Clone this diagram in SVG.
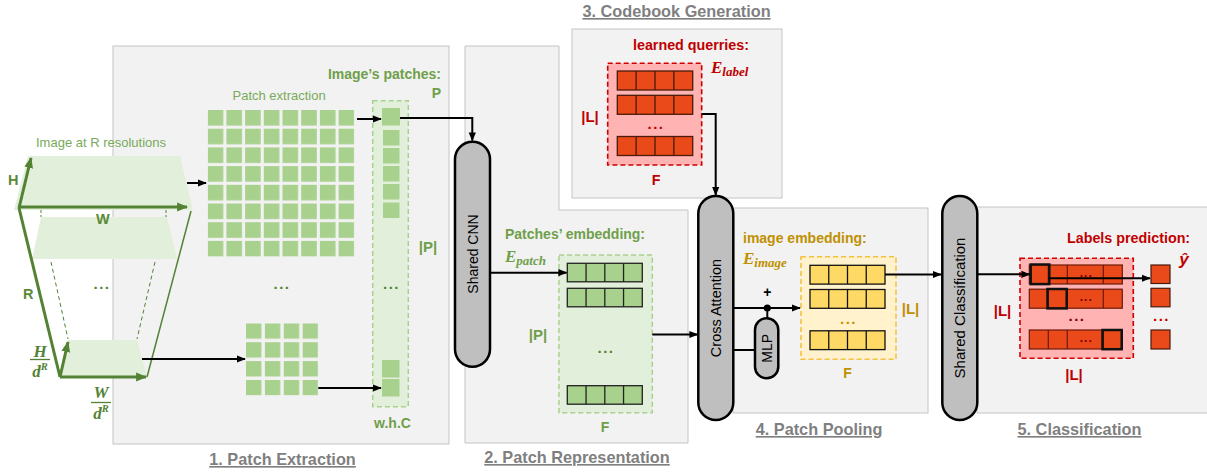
<svg xmlns="http://www.w3.org/2000/svg" xmlns:xlink="http://www.w3.org/1999/xlink" width="1207" height="475" viewBox="0 0 1207 475">
<style>
text{font-family:"Liberation Sans",Arial,sans-serif}
.panel{fill:#f2f2f2;stroke:#c4c4c4;stroke-width:1}
.title{font-size:16.3px;font-weight:bold;fill:#7f7f7f;text-decoration:underline;text-anchor:middle}
.g{fill:#6f9f4a;font-weight:bold;font-size:14px}
.gd{fill:#5a8a37;font-weight:bold;font-size:14.5px}
.gl{fill:#78aa5a;font-size:13px}
.r{fill:#c00000;font-weight:bold;font-size:14.3px}
.y{fill:#bf9000;font-weight:bold;font-size:14px}
.math{font-family:"Liberation Serif","DejaVu Serif",serif;font-style:italic;font-weight:bold}
.cap{fill:#bfbfbf;stroke:#000;stroke-width:2.5}
.capt{font-size:14px;fill:#000;text-anchor:middle;dominant-baseline:central}
.conn{stroke:#000;stroke-width:2;fill:none}
.sq{fill:#a9d18e}
.gdash{fill:#e2efda;stroke:#a9d18e;stroke-width:1.5;stroke-dasharray:5 3}
.rdash{fill:#ffb3b3;stroke:#d00000;stroke-width:1.6;stroke-dasharray:5 3}
.ydash{fill:#fff2cc;stroke:#f5c142;stroke-width:1.6;stroke-dasharray:5 3}
.img{fill:#e2efda}
.gline{stroke:#548235;stroke-width:3;fill:none}
.dots{font-weight:bold;font-size:15px;text-anchor:middle;letter-spacing:1.5px}
.mid{text-anchor:middle}
</style>
<defs>
<marker id="ah" viewBox="0 0 10 10" refX="9" refY="5" markerWidth="9" markerHeight="9" markerUnits="userSpaceOnUse" orient="auto"><path d="M0,1 L10,5 L0,9 z" fill="#000"/></marker>
<marker id="gah" viewBox="0 0 10 10" refX="9" refY="5" markerWidth="11" markerHeight="11" markerUnits="userSpaceOnUse" orient="auto"><path d="M0,1 L10,5 L0,9 z" fill="#548235"/></marker>
<pattern id="grid8" patternUnits="userSpaceOnUse" x="207.7" y="110" width="18.7" height="18.7"><rect width="15.6" height="15.6" fill="#a9d18e"/></pattern>
<pattern id="grid4" patternUnits="userSpaceOnUse" x="246" y="323.3" width="18.9" height="18.9"><rect width="15.4" height="15.4" fill="#a9d18e"/></pattern>
<g id="grow"><rect x="0" y="0" width="75" height="18.5" fill="#a9d18e" stroke="#222" stroke-width="1.3"/><path d="M18.75,0V18.5M37.5,0V18.5M56.25,0V18.5" stroke="#222" stroke-width="1.3"/></g>
<g id="rrow"><rect x="0" y="0" width="75.4" height="19" fill="#ea4a1a" stroke="#4a1a0a" stroke-width="1.3"/><path d="M18.85,0V19M37.7,0V19M56.55,0V19" stroke="#4a1a0a" stroke-width="1.3"/></g>
<g id="yrow"><rect x="0" y="0" width="75" height="18.8" fill="#ffd966" stroke="#111" stroke-width="1.3"/><path d="M18.75,0V18.8M37.5,0V18.8M56.25,0V18.8" stroke="#111" stroke-width="1.3"/></g>
<g id="lrow"><rect x="0" y="0" width="93" height="19" fill="#ea4a1a" stroke="#6a1a0a" stroke-width="1.2"/><path d="M19,0V19M38,0V19M74,0V19" stroke="#6a1a0a" stroke-width="1.2"/><text x="57" y="12" class="dots" fill="#7a0000" style="font-size:12px;letter-spacing:1px">...</text></g>
</defs>

<rect width="1207" height="475" fill="#fff"/>

<!-- panels -->
<g id="panel1"><rect class="panel" x="113" y="46" width="336" height="398"/></g>
<g id="panel2"><path class="panel" d="M465,46H559V210H688V443H465Z"/></g>
<g id="panel3"><rect class="panel" x="572" y="29" width="210" height="169"/></g>
<g id="panel4"><rect class="panel" x="733" y="208" width="195" height="205"/></g>
<g id="panel5"><rect class="panel" x="977" y="207" width="240" height="206"/></g>

<!-- titles -->
<text class="title" x="282.5" y="465">1. Patch Extraction</text>
<text class="title" x="577" y="463">2. Patch Representation</text>
<text class="title" x="676.5" y="17">3. Codebook Generation</text>
<text class="title" x="819" y="435">4. Patch Pooling</text>
<text class="title" x="1079.5" y="435">5. Classification</text>

<!-- multi-resolution image -->
<g id="image-pyramid">
<text class="gl" x="36" y="147">Image at R resolutions</text>
<polygon class="img" points="28,156 180,156 193,210 14,210"/>
<polygon class="img" points="41,217 167,217 177,259 32,259"/>
<polygon class="img" points="68,340 137,340 147,377 59,377"/>
<path d="M41,210V217M166,210V217" stroke="#548235" stroke-width="1" stroke-dasharray="3 2"/>
<path d="M51,262L68,339M155,262L137,339" stroke="#548235" stroke-width="1" stroke-dasharray="4 3"/>
<path d="M191,211L147,377" stroke="#548235" stroke-width="1.5" fill="none"/>
<path class="gline" d="M19,208L60,377"/>
<path class="gline" d="M19,208L31,158" marker-end="url(#gah)"/>
<path class="gline" d="M19,207H187" marker-end="url(#gah)"/>
<path class="gline" d="M60,377L68,342" stroke-width="2.5" marker-end="url(#gah)"/>
<path class="gline" d="M60,377H146" stroke-width="2.5" marker-end="url(#gah)"/>
<text class="gd" x="8" y="185">H</text>
<text class="gd" x="96" y="224">W</text>
<text class="gd" x="23" y="299">R</text>
<text class="dots" x="102" y="289" fill="#548235">...</text>
<g fill="#548235">
<text class="math mid" x="40" y="357" font-size="17">H</text>
<path d="M30,359.5H50" stroke="#548235" stroke-width="1.3"/>
<text class="math mid" x="40" y="377" font-size="17">d<tspan font-size="10.5" dy="-7">R</tspan></text>
<text class="math mid" x="101" y="398" font-size="17">W</text>
<path d="M91,402.5H111" stroke="#548235" stroke-width="1.3"/>
<text class="math mid" x="101" y="419" font-size="17">d<tspan font-size="10.5" dy="-7">R</tspan></text>
</g>
</g>

<!-- patch grids -->
<g id="patch-grid">
<text class="gl" x="232.5" y="100">Patch extraction</text>
<rect x="207.7" y="110" width="146.6" height="146.6" fill="url(#grid8)"/>
<text class="dots" x="282" y="289" fill="#548235">...</text>
<rect x="246" y="323.3" width="72.1" height="72.1" fill="url(#grid4)"/>
</g>

<!-- image patches column -->
<g id="patches-column">
<text class="g" x="441" y="79" text-anchor="end">Image’s patches:</text>
<text class="g" x="441" y="98" text-anchor="end">P</text>
<rect class="gdash" x="372.7" y="100.7" width="35.6" height="306"/>
<rect class="sq" x="382" y="108" width="18" height="17.5"/>
<rect class="sq" x="383" y="130" width="16.5" height="15.5"/>
<rect class="sq" x="383" y="148" width="16.5" height="15.5"/>
<rect class="sq" x="383" y="166" width="16.5" height="15.5"/>
<rect class="sq" x="383" y="184" width="16.5" height="15.5"/>
<rect class="sq" x="383" y="202.5" width="16.5" height="15.5"/>
<text class="dots" x="391.5" y="289" fill="#548235">...</text>
<rect class="sq" x="382" y="360" width="17.5" height="17.5"/>
<rect class="sq" x="382" y="379" width="17.5" height="17.5"/>
<text class="g" x="428" y="252" text-anchor="middle" style="font-size:15px">|P|</text>
<text class="g" x="392.5" y="428" text-anchor="middle">w.h.C</text>
</g>

<!-- Shared CNN -->
<g id="shared-cnn">
<rect class="cap" x="455" y="141.7" width="35" height="225" rx="17.5"/>
<text class="capt" transform="rotate(-90 472.5 254)" x="472.5" y="254">Shared CNN</text>
</g>

<!-- patch embeddings -->
<g id="patch-embedding">
<text class="g" x="505" y="239">Patches’ embedding:</text>
<text class="math" x="505" y="262" font-size="17" fill="#6f9f4a">E<tspan font-size="13" dy="3">patch</tspan></text>
<rect class="gdash" x="559" y="255" width="93.3" height="157.7"/>
<use href="#grow" x="567.3" y="263.3"/>
<use href="#grow" x="567.3" y="288.3"/>
<text class="dots" x="606" y="353" fill="#548235">...</text>
<use href="#grow" x="567.3" y="385.7"/>
<text class="g" x="538" y="340" text-anchor="middle" style="font-size:15px">|P|</text>
<text class="g" x="605" y="432" text-anchor="middle">F</text>
</g>

<!-- codebook -->
<g id="codebook">
<text class="r" x="633" y="50">learned querries:</text>
<text class="math" x="711" y="73" font-size="17" fill="#c00000">E<tspan font-size="13" dy="3">label</tspan></text>
<rect class="rdash" x="607.7" y="63.3" width="94" height="101.7"/>
<use href="#rrow" x="617.3" y="71"/>
<use href="#rrow" x="617.3" y="95.3"/>
<text class="dots" x="656" y="129" fill="#c00000">...</text>
<use href="#rrow" x="617.3" y="136.5"/>
<text class="r" x="590" y="122" text-anchor="middle" style="font-size:15px">|L|</text>
<text class="r" x="656" y="185" text-anchor="middle">F</text>
</g>

<!-- Cross Attention -->
<g id="cross-attention">
<rect class="cap" x="698.3" y="196" width="35" height="224" rx="17.5"/>
<text class="capt" transform="rotate(-90 715.8 308)" x="715.8" y="308" style="font-size:14.5px">Cross Attention</text>
</g>

<!-- MLP -->
<g id="mlp">
<rect class="cap" x="755" y="318.3" width="23.3" height="60" rx="11.6"/>
<text class="capt" transform="rotate(-90 766.7 348.3)" x="766.7" y="348.3">MLP</text>
</g>

<!-- image embedding -->
<g id="image-embedding">
<text class="y" x="743" y="243">image embedding:</text>
<text class="math" x="743" y="264" font-size="17" fill="#bf9000">E<tspan font-size="13" dy="3">image</tspan></text>
<rect class="ydash" x="801" y="256.7" width="95" height="102.6"/>
<use href="#yrow" x="810" y="265.3"/>
<use href="#yrow" x="810" y="289.5"/>
<text class="dots" x="848.5" y="324" fill="#bf9000">...</text>
<use href="#yrow" x="810" y="330.8"/>
<text class="y" x="910.5" y="314" text-anchor="middle" style="font-size:15px">|L|</text>
<text class="y" x="847.5" y="378" text-anchor="middle">F</text>
<text x="767.3" y="297" text-anchor="middle" font-weight="bold" font-size="14">+</text>
</g>

<!-- Shared Classification -->
<g id="shared-classification">
<rect class="cap" x="942.3" y="196" width="35" height="224" rx="17.5"/>
<text class="capt" transform="rotate(-90 959.8 308)" x="959.8" y="308" style="font-size:15px">Shared Classification</text>
</g>

<!-- labels prediction -->
<g id="labels-prediction">
<text class="r" x="1067" y="243">Labels prediction:</text>
<text x="1184" y="265" font-family="Liberation Serif,serif" font-style="italic" font-weight="bold" font-size="17" fill="#c00000" text-anchor="middle">ŷ</text>
<rect class="rdash" x="1020" y="258.3" width="113.3" height="100"/>
<use href="#lrow" x="1029.3" y="265"/>
<use href="#lrow" x="1029.3" y="289.2"/>
<text class="dots" x="1077" y="321" fill="#7a0000">...</text>
<use href="#lrow" x="1029.3" y="330"/>
<rect x="1030.7" y="264.5" width="18.6" height="19.6" fill="none" stroke="#111" stroke-width="2.5"/>
<rect x="1047.5" y="289" width="19.2" height="19.4" fill="none" stroke="#111" stroke-width="2.5"/>
<rect x="1102.5" y="330" width="19.2" height="19.2" fill="none" stroke="#111" stroke-width="2.5"/>
<text class="r" x="1002.5" y="316" text-anchor="middle" style="font-size:15px">|L|</text>
<text class="r" x="1074" y="380" text-anchor="middle" style="font-size:15px">|L|</text>
<g fill="#ea4a1a" stroke="#4a1a0a" stroke-width="1.2">
<rect x="1151" y="265" width="19" height="18.5"/>
<rect x="1151" y="288.3" width="19" height="18.5"/>
<rect x="1151" y="330" width="19" height="19"/>
</g>
<text class="dots" x="1161.5" y="321" fill="#c00000">...</text>
</g>

<!-- connectors -->
<g id="connectors">
<path class="conn" d="M187,183H206" marker-end="url(#ah)"/>
<path class="conn" d="M142,359H245" marker-end="url(#ah)"/>
<path class="conn" d="M318.3,388H381" marker-end="url(#ah)"/>
<path class="conn" d="M357,119H381" marker-end="url(#ah)"/>
<path class="conn" d="M400,118H472.3V140.5" marker-end="url(#ah)"/>
<path class="conn" d="M490,272.7H566.5" marker-end="url(#ah)"/>
<path class="conn" d="M652.3,334.5H697.5" marker-end="url(#ah)"/>
<path class="conn" d="M701.7,114H715.7V195" marker-end="url(#ah)"/>
<path class="conn" d="M733.3,308H800" marker-end="url(#ah)"/>
<circle cx="767.3" cy="308" r="3.6" fill="#000"/>
<path class="conn" d="M767.3,308V318.3"/>
<path class="conn" d="M733.3,350H755"/>
<path class="conn" d="M885,274.5H941" marker-end="url(#ah)"/>
<path class="conn" d="M977.3,274.3H1029.5" marker-end="url(#ah)"/>
<path class="conn" d="M1048.5,278.3H1150" marker-end="url(#ah)"/>
</g>
</svg>
